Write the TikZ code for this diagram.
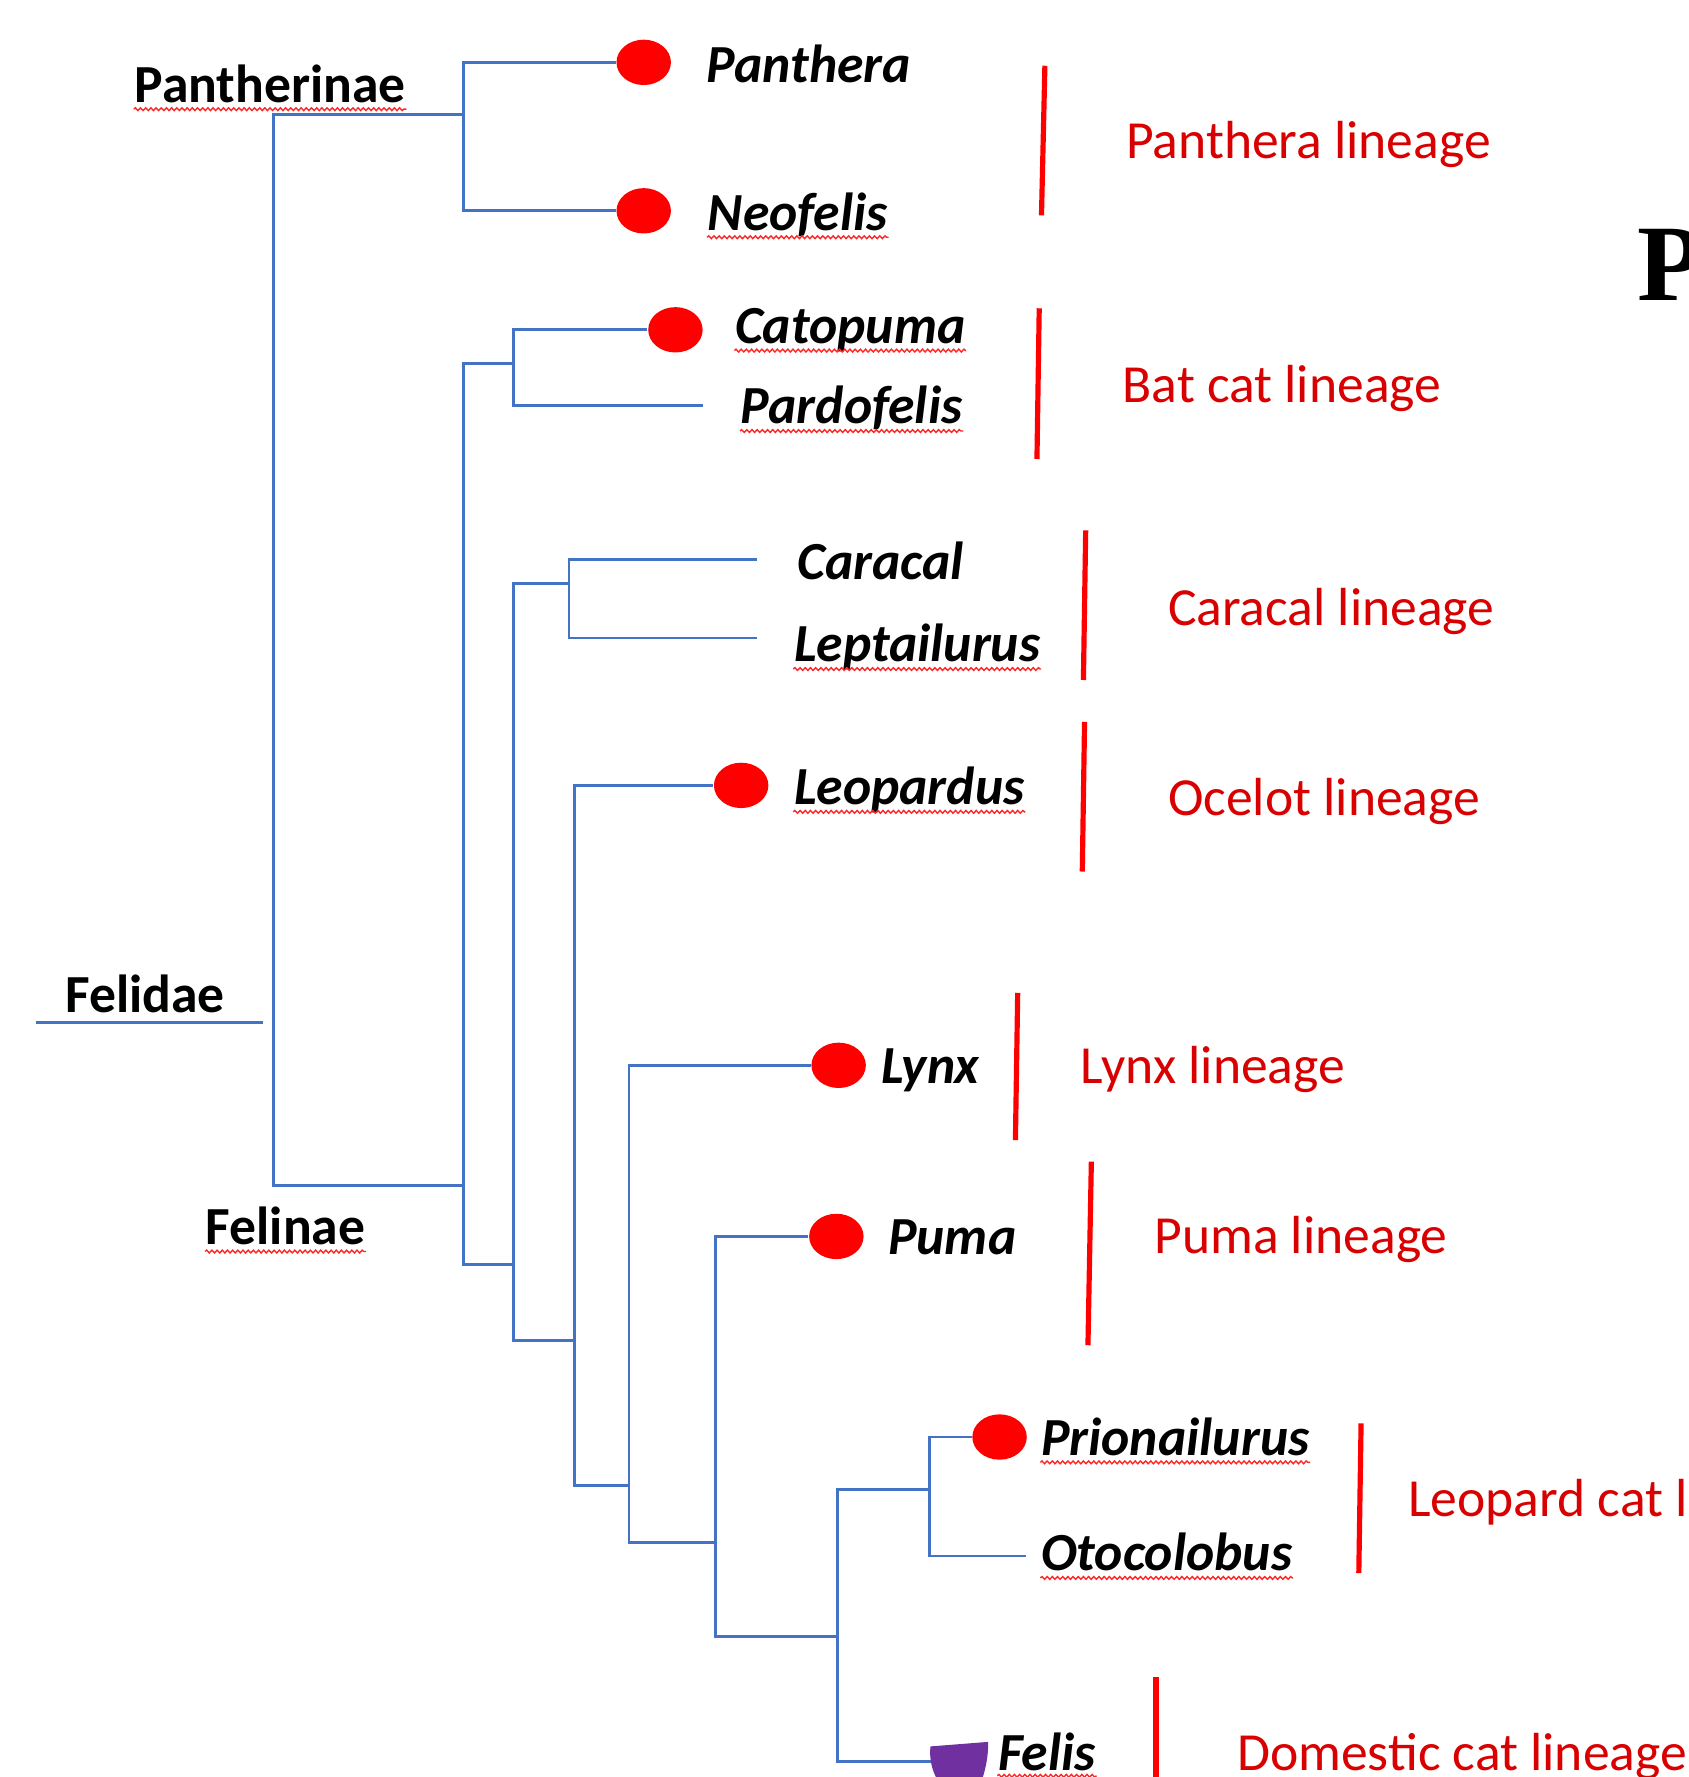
\documentclass[tikz,border=0pt]{standalone}
\usepackage{fontspec}
\setmainfont{Carlito}
\newfontfamily\bigserif{Liberation Serif}
\usetikzlibrary{decorations.pathmorphing,shapes.geometric}
\definecolor{treeblue}{HTML}{4472C4}
\definecolor{tipred}{HTML}{FF0000}
\definecolor{labelred}{HTML}{D80000}
\definecolor{felispurple}{HTML}{7030A0}
\tikzset{x=0.01cm, y=-0.01cm,
    every node/.style={inner sep=0pt, anchor=base west, font=\fontsize{13.45pt}{16pt}\selectfont},
    branch/.style={draw=treeblue, line width=0.7pt},
    tipdot/.style={ellipse, fill=tipred, minimum width=0.48cm, minimum height=0.40cm, anchor=center},
    family/.style={font=\fontsize{13.45pt}{16pt}\selectfont\bfseries},
    genus/.style={font=\fontsize{13.45pt}{16pt}\selectfont\bfseries\itshape},
    lineage/.style={text=labelred},
    linebar/.style={draw=tipred, line width=1.3pt},
    spell/.style={draw=red!85, line width=0.35pt, decorate,
        decoration={snake, amplitude=0.35pt, segment length=1.3pt}},
    }

\begin{document}
\begin{tikzpicture}
\useasboundingbox (0,0) rectangle (1490,1568);
\clip (0,0) rectangle (1490,1568);

\node[family] (t-pantherinae) at (118,90) {Pantherinae};
\node[family] (t-felidae) at (57,893) {Felidae};
\node[family] (t-felinae) at (181,1098) {Felinae};

\node[tipdot] (d-panthera) at (568,55) {};
\node[tipdot] (d-neofelis) at (568,186) {};
\node[tipdot] (d-catopuma) at (596,291) {};
\node[tipdot] (d-leopardus) at (654,693) {};
\node[tipdot] (d-lynx) at (740,940) {};
\node[tipdot] (d-puma) at (738,1091) {};
\node[tipdot] (d-prionailurus) at (882,1268) {};

\node[genus] (t-panthera) at (623,73) {Panthera};
\node[genus] (t-neofelis) at (624,203) {Neofelis};
\node[genus] (t-catopuma) at (648,303) {Catopuma};
\node[genus] (t-pardofelis) at (653,374) {Pardofelis};
\node[genus] (t-caracal) at (703,511) {Caracal};
\node[genus] (t-leptailurus) at (700,584) {Leptailurus};
\node[genus] (t-leopardus) at (700,710) {Leopardus};
\node[genus] (t-lynx) at (777,956) {Lynx};
\node[genus] (t-puma) at (783,1107) {Puma};
\node[genus] (t-prionailurus) at (918,1284) {Prionailurus};
\node[genus] (t-otocolobus) at (918,1386) {Otocolobus};
\node[genus] (t-felis) at (880,1562) {Felis};

\node[lineage] (l-panthera) at (993,140) {Panthera lineage};
\node[lineage] (l-batcat) at (990,355) {Bat cat lineage};
\node[lineage] (l-caracal) at (1030,552) {Caracal lineage};
\node[lineage] (l-ocelot) at (1030,720) {Ocelot lineage};
\node[lineage] (l-lynx) at (953,956) {Lynx lineage};
\node[lineage] (l-puma) at (1018,1106) {Puma lineage};
\node[lineage] (l-leopardcat) at (1242,1338) {Leopard cat lineage};
\node[lineage] (l-domestic) at (1091,1562) {Domestic cat lineage};

\node[font=\fontsize{27.3pt}{30pt}\bigserif\bfseries] (t-p) at (1444,265) {P};

\coordinate (root) at (241,574);
\coordinate (pantherinae) at (409,101);
\coordinate (felinae) at (409,1046);
\coordinate (batcat) at (453,321);
\coordinate (rest) at (453,1116);
\coordinate (caracal) at (502,515);
\coordinate (ocelot) at (507,1183);
\coordinate (lynx) at (555,1311);
\coordinate (puma) at (631,1361);
\coordinate (felis) at (739,1444);
\coordinate (leopardcat) at (820,1314);
\coordinate (pardofelis-tip) at (620,358);
\coordinate (caracal-tip) at (668,494);
\coordinate (leptailurus-tip) at (668,563);
\coordinate (otocolobus-tip) at (905,1373);
\coordinate (felis-tip) at (822,1554);
\coordinate (felidae-l) at (32,902);
\coordinate (felidae-r) at (232,902);

\draw[branch] (felidae-l) -- (felidae-r);
\draw[branch] (pantherinae) -| (root) |- (felinae);
\draw[branch] (d-panthera) -| (pantherinae) |- (d-neofelis);
\draw[branch] (batcat) -| (felinae) |- (rest);
\draw[branch] (d-catopuma) -| (batcat) |- (pardofelis-tip);
\draw[branch] (caracal) -| (rest) |- (ocelot);
\draw[branch] (caracal-tip) -| (caracal) |- (leptailurus-tip);
\draw[branch] (d-leopardus) -| (ocelot) |- (lynx);
\draw[branch] (d-lynx) -| (lynx) |- (puma);
\draw[branch] (d-puma) -| (puma) |- (felis);
\draw[branch] (leopardcat) -| (felis) |- (felis-tip);
\draw[branch] (d-prionailurus) -| (leopardcat) |- (otocolobus-tip);

\fill[felispurple] (821,1541) -- (872,1537) .. controls (872,1550) and (870,1560) .. (866,1572)
    -- (828,1572) .. controls (822,1562) and (820,1552) .. (821,1541);

\draw[linebar] (922,58) -- (919,190);
\draw[linebar] (917,272) -- (915,405);
\draw[linebar] (958,468) -- (956,600);
\draw[linebar] (957,637) -- (955,769);
\draw[linebar] (898,876) -- (896,1006);
\draw[linebar] (963,1025) -- (960,1187);
\draw[linebar] (1201,1256) -- (1199,1388);
\draw[linebar] (1020,1480) -- (1020,1575);

\draw[spell] ([yshift=-1.8pt]t-pantherinae.base west) -- ([yshift=-1.8pt]t-pantherinae.base east);
\draw[spell] ([yshift=-1.8pt]t-felinae.base west) -- ([yshift=-1.8pt]t-felinae.base east);
\draw[spell] ([yshift=-1.8pt]t-neofelis.base west) -- ([yshift=-1.8pt]t-neofelis.base east);
\draw[spell] ([yshift=-1.8pt]t-catopuma.base west) -- ([yshift=-1.8pt]t-catopuma.base east);
\draw[spell] ([yshift=-1.8pt]t-pardofelis.base west) -- ([yshift=-1.8pt]t-pardofelis.base east);
\draw[spell] ([yshift=-1.8pt]t-leptailurus.base west) -- ([yshift=-1.8pt]t-leptailurus.base east);
\draw[spell] ([yshift=-1.8pt]t-leopardus.base west) -- ([yshift=-1.8pt]t-leopardus.base east);
\draw[spell] ([yshift=-1.8pt]t-prionailurus.base west) -- ([yshift=-1.8pt]t-prionailurus.base east);
\draw[spell] ([yshift=-1.8pt]t-otocolobus.base west) -- ([yshift=-1.8pt]t-otocolobus.base east);
\draw[spell] ([yshift=-1.4pt]t-felis.base west) -- ([yshift=-1.4pt]t-felis.base east);
\end{tikzpicture}
\end{document}
